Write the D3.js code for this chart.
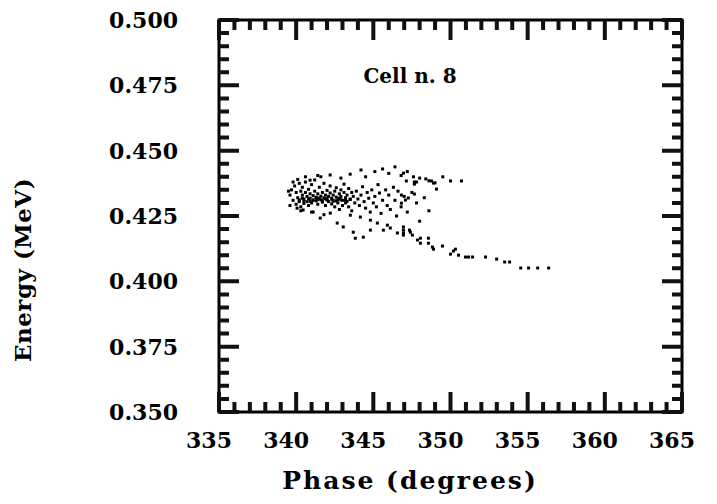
<!DOCTYPE html>
<html>
<head>
<meta charset="utf-8">
<script src="https://cdn.jsdelivr.net/npm/d3@7"></script>
<style>
  html, body { margin: 0; padding: 0; background: #fff; }
  svg { display: block; }
  text { font-family: "DejaVu Serif", "Liberation Serif", serif; font-weight: bold; fill: #000; }
</style>
</head>
<body>
<svg id="chart" width="717" height="504"></svg>
<script>
// Phase-space scatter of the particles leaving cell 8
const xTicks = [335, 340, 345, 350, 355, 360, 365];
const xTickLabels = ["335", "340", "345", "350", "355", "360", "365"];
const yTicks = [0.350, 0.375, 0.400, 0.425, 0.450, 0.475, 0.500];
const yTickLabels = ["0.350", "0.375", "0.400", "0.425", "0.450", "0.475", "0.500"];
const panelLabel = "Cell n. 8";
const xTitle = "Phase (degrees)";
const yTitle = "Energy (MeV)";

// Phase (degrees) of each particle
const phase = [
  // dense core
  339.6, 339.7, 339.8, 339.9, 340.0, 340.0, 340.1, 340.2, 340.2, 340.3, 340.3, 340.4, 340.4, 340.5, 340.5,
  340.6, 340.6, 340.7, 340.7, 340.8, 340.8, 340.9, 340.9, 341.0, 341.0, 341.1, 341.1, 341.2, 341.2, 341.3,
  341.3, 341.4, 341.4, 341.5, 341.5, 341.6, 341.6, 341.7, 341.7, 341.8, 341.8, 341.9, 341.9, 342.0, 342.0,
  342.1, 342.1, 342.2, 342.2, 342.3, 342.3, 342.4, 342.4, 342.5, 342.5, 342.6, 342.6, 342.7, 342.7, 342.8,
  342.8, 342.9, 342.9, 343.0, 343.0, 343.1, 343.1, 343.2, 343.2, 343.3, 343.4, 343.4, 343.5, 343.6, 343.6,
  343.7, 343.8, 343.9, 344.0, 344.1, 344.2, 344.3, 344.4, 344.5, 344.6, 344.7, 344.8, 344.9, 345.0, 345.1,
  345.2, 345.3, 345.4, 345.5, 345.6, 345.8, 345.9, 346.0, 346.1, 346.3, 346.4, 346.5, 346.6, 346.8, 347.0,
  347.2, 347.5, 347.8, 348.0, 348.3, 348.6,
  // dark band
  340.2, 340.5, 340.8, 341.1, 341.4, 341.7, 342.0, 342.3, 342.6, 342.9, 343.2, 343.5,
  340.4, 340.9, 341.3, 341.9, 342.4, 342.8, 343.3,
  // left edge
  339.5, 339.6, 339.8, 340.1, 340.6, 341.4, 340.3, 341.0, 341.8,
  // upper branch
  340.9, 341.6, 342.2, 342.9, 343.5, 344.2, 344.5, 345.1, 345.6, 346.0, 346.4, 346.8, 347.2, 347.6, 347.8,
  348.0, 348.4, 348.6, 349.0, 349.5,
  346.95, 347.14, 347.66, 347.66, 348.77, 348.90, 349.09, 350.0, 350.71,
  346.82, 347.66, 347.27, 347.08, 346.82,
  // lower branch
  341.56, 342.66, 343.05, 343.70, 344.35, 343.83, 344.81, 345.65, 346.10, 345.91, 346.56, 346.95, 347.40, 347.86,
  345.26, 344.81, 344.16, 343.51, 342.21, 341.10, 340.45, 340.06,
  // tail
  346.95, 346.95, 347.34, 346.95, 347.53, 348.05, 348.05, 348.57, 348.57, 348.83, 348.90, 349.48, 350.00, 350.19,
  350.32, 350.52, 350.97, 351.17, 351.43, 352.27, 352.99, 353.51, 353.83, 354.55, 355.06, 355.65, 356.36
];

// Kinetic energy (MeV) of each particle, same order as phase
const energy = [
  // dense core
  0.4330, 0.4350, 0.4310, 0.4365, 0.4340, 0.4295, 0.4320, 0.4375, 0.4305, 0.4345, 0.4285, 0.4330, 0.4360, 0.4315, 0.4298,
  0.4340, 0.4380, 0.4325, 0.4305, 0.4352, 0.4290, 0.4318, 0.4335, 0.4370, 0.4300, 0.4328, 0.4312, 0.4345, 0.4388, 0.4322,
  0.4308, 0.4335, 0.4295, 0.4318, 0.4360, 0.4326, 0.4312, 0.4340, 0.4303, 0.4320, 0.4375, 0.4330, 0.4290, 0.4315, 0.4348,
  0.4325, 0.4305, 0.4338, 0.4365, 0.4318, 0.4296, 0.4330, 0.4310, 0.4345, 0.4285, 0.4322, 0.4358, 0.4312, 0.4300, 0.4335,
  0.4275, 0.4325, 0.4350, 0.4310, 0.4290, 0.4340, 0.4372, 0.4320, 0.4300, 0.4330, 0.4355, 0.4285, 0.4315, 0.4340, 0.4270,
  0.4325, 0.4300, 0.4345, 0.4315, 0.4290, 0.4330, 0.4362, 0.4305, 0.4280, 0.4340, 0.4318, 0.4265, 0.4350, 0.4300, 0.4325,
  0.4285, 0.4370, 0.4338, 0.4260, 0.4310, 0.4350, 0.4290, 0.4330, 0.4275, 0.4360, 0.4310, 0.4250, 0.4345, 0.4285, 0.4325,
  0.4265, 0.4340, 0.4300, 0.4230, 0.4320, 0.4270,
  // dark band
  0.4312, 0.4308, 0.4315, 0.4310, 0.4313, 0.4309, 0.4311, 0.4314, 0.4308, 0.4312, 0.4310, 0.4313,
  0.4318, 0.4306, 0.4319, 0.4316, 0.4306, 0.4318, 0.4306,
  // left edge
  0.4345, 0.4290, 0.4380, 0.4390, 0.4400, 0.4405, 0.4270, 0.4265, 0.4255,
  // upper branch
  0.4387, 0.4400, 0.4407, 0.4395, 0.4410, 0.4426, 0.4400, 0.4420, 0.4430, 0.4413, 0.4438, 0.4405, 0.4420, 0.4400, 0.4380,
  0.4395, 0.4392, 0.4385, 0.4377, 0.4400,
  0.4414, 0.4384, 0.4380, 0.4372, 0.4384, 0.4376, 0.4353, 0.4384, 0.4384,
  0.4330, 0.4334, 0.4319, 0.4311, 0.4299,
  // lower branch
  0.4242, 0.4223, 0.4208, 0.4188, 0.4169, 0.4165, 0.4196, 0.4196, 0.4204, 0.4215, 0.4185, 0.4185, 0.4188, 0.4158,
  0.4223, 0.4234, 0.4246, 0.4253, 0.4261, 0.4265, 0.4273, 0.4280,
  // tail
  0.4208, 0.4196, 0.4196, 0.4177, 0.4177, 0.4165, 0.4146, 0.4165, 0.4146, 0.4131, 0.4123, 0.4135, 0.4104, 0.4116,
  0.4123, 0.4100, 0.4093, 0.4093, 0.4093, 0.4093, 0.4085, 0.4074, 0.4074, 0.4051, 0.4051, 0.4051, 0.4051
];

const svg = d3.select("#chart");
const plotLeft = 219, plotRight = 682, plotTop = 20, plotBottom = 412;
const plotW = plotRight - plotLeft, plotH = plotBottom - plotTop;

const x = d3.scaleLinear().domain([335, 365]).range([plotLeft, plotRight]);
const y = d3.scaleLinear().domain([0.35, 0.5]).range([plotBottom, plotTop]);

const majorLen = 20, minorLen = 10;
const xMinor = d3.range(0, 31).map(i => 335 + i).filter((v, i) => i % 5 !== 0);
const yMinor = d3.range(0, 31).map(i => 0.35 + i * 0.005).filter((v, i) => i % 5 !== 0);

// Frame
svg.append("rect")
  .attr("x", plotLeft).attr("y", plotTop)
  .attr("width", plotW).attr("height", plotH)
  .attr("fill", "none").attr("stroke", "#000").attr("stroke-width", 3);

// Inward ticks on all four sides, built as one path from the scales
const tickPath = d3.path();
function addXTicks(vals, len) {
  vals.forEach(v => {
    const px = x(v);
    tickPath.moveTo(px, plotBottom); tickPath.lineTo(px, plotBottom - len);
    tickPath.moveTo(px, plotTop); tickPath.lineTo(px, plotTop + len);
  });
}
function addYTicks(vals, len) {
  vals.forEach(v => {
    const py = y(v);
    tickPath.moveTo(plotLeft, py); tickPath.lineTo(plotLeft + len, py);
    tickPath.moveTo(plotRight, py); tickPath.lineTo(plotRight - len, py);
  });
}
addXTicks(xTicks, majorLen);
addXTicks(xMinor, minorLen);
addYTicks(yTicks, majorLen);
addYTicks(yMinor, minorLen);
svg.append("path")
  .attr("d", tickPath.toString())
  .attr("fill", "none")
  .attr("stroke", "#111")
  .attr("stroke-width", 4);

// Tick labels
svg.append("g").selectAll("text").data(xTicks).enter().append("text")
  .attr("x", d => x(d) - 10).attr("y", plotBottom + 36)
  .attr("text-anchor", "middle").attr("font-size", 22)
  .text((d, i) => xTickLabels[i]);

svg.append("g").selectAll("text").data(yTicks).enter().append("text")
  .attr("x", 178).attr("y", d => y(d) + 8)
  .attr("text-anchor", "end").attr("font-size", 22)
  .text((d, i) => yTickLabels[i]);

// Axis titles
svg.append("text")
  .attr("x", 410).attr("y", 489)
  .attr("text-anchor", "middle").attr("font-size", 25).attr("letter-spacing", 2)
  .text(xTitle);

svg.append("text")
  .attr("transform", "translate(31,270) rotate(-90)")
  .attr("text-anchor", "middle").attr("font-size", 23).attr("letter-spacing", 0.5)
  .text(yTitle);

// Panel label
svg.append("text")
  .attr("x", 410).attr("y", 83)
  .attr("text-anchor", "middle").attr("font-size", 20)
  .text(panelLabel);

// Particles
svg.append("g").selectAll("rect").data(phase).enter().append("rect")
  .attr("x", d => x(d) - 1.5)
  .attr("y", (d, i) => y(energy[i]) - 1.5)
  .attr("width", 3).attr("height", 3)
  .attr("fill", "#000");
</script>
</body>
</html>
